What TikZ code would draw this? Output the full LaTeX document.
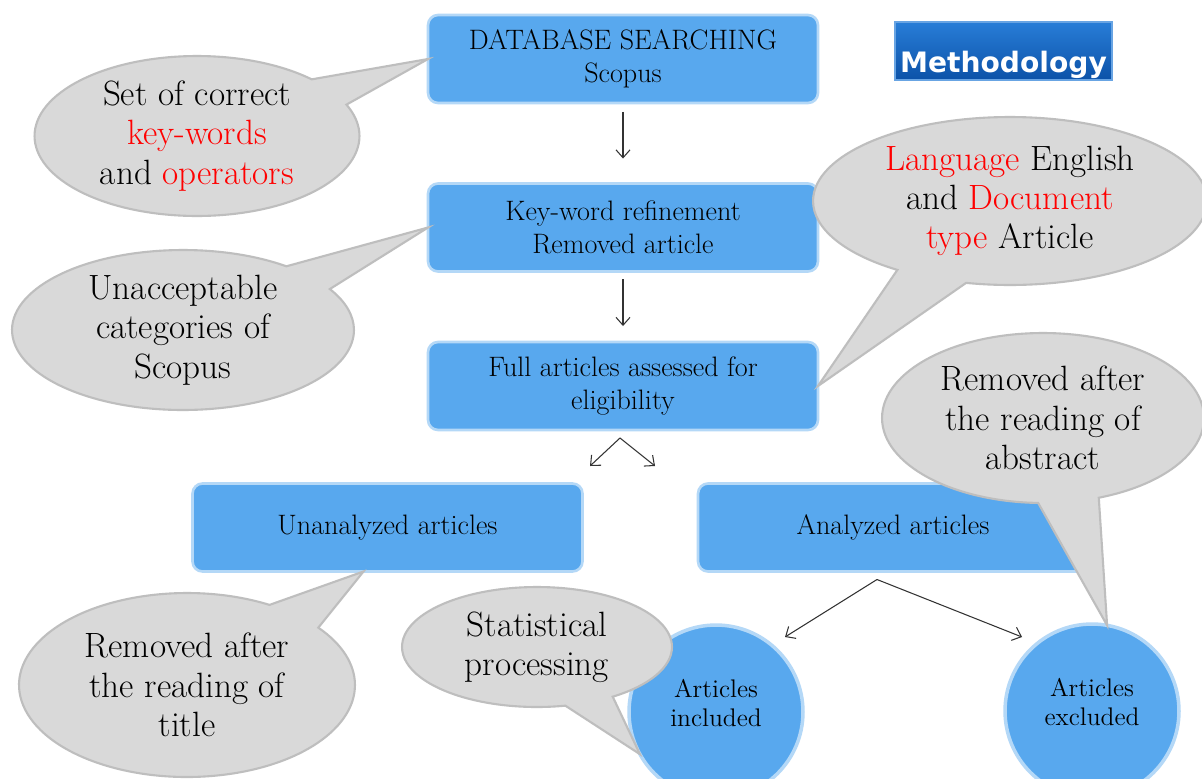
\documentclass[tikz,border=0pt]{standalone}
\usepackage{fontspec}
\newfontfamily\badgefont{DejaVu Sans}
\usepackage{tikz}
\usetikzlibrary{shapes.geometric, shapes.callouts, arrows.meta, positioning, calc}

\definecolor{boxblue}{RGB}{88,168,238}
\definecolor{bubblegray}{RGB}{217,217,217}
\definecolor{bubbleline}{RGB}{190,190,190}
\definecolor{badgetop}{RGB}{40,125,215}
\definecolor{badgebot}{RGB}{12,82,168}

\begin{document}
\begin{tikzpicture}[
    x=0.02cm, y=-0.02cm,
    box/.style={rectangle, rounded corners=0.2cm, minimum width=7.8cm, minimum height=1.76cm, align=center, fill=boxblue, draw=boxblue!45, line width=1.5pt, inner sep=0pt, outer sep=0pt, font=\fontsize{16}{18.5}\selectfont},
    disc/.style={circle, minimum size=3.48cm, align=center, fill=boxblue, draw=boxblue!45, line width=2pt, inner sep=0pt, outer sep=0pt, text depth=0.36cm, font=\fontsize{14.5}{16.5}\selectfont},
    bubble/.style={ellipse callout, callout pointer arc=22, fill=bubblegray, draw=bubbleline, line width=1.2pt, align=center, inner sep=0pt, outer sep=0pt, font=\fontsize{20}{22.4}\selectfont},
    badgebox/.style={rectangle, minimum width=4.34cm, minimum height=1.16cm, top color=badgetop, bottom color=badgebot, draw=badgetop!70!white, line width=0.8pt, text=white, inner sep=0pt, text height=0.84cm, text depth=0pt, font=\badgefont\bfseries\fontsize{16}{18}\selectfont},
    arrow/.style={-{Straight Barb[length=4.5pt, width=8pt]}, draw=black!80, line width=0.6pt}
]
\fill[white] (0,0) rectangle (1202,778);
\useasboundingbox (0,0) rectangle (1202,778);

% main column
\node[box] (search) at (623,59) {DATABASE SEARCHING\\Scopus};
\node[box] (refine) at (623,227.5) {Key-word refinement\\Removed article};
\node[box] (full) at (623,386) {Full articles assessed for\\eligibility};
\node[box] (unan) at (387.5,527.5) {Unanalyzed articles};
\node[box] (anal) at (893,527.5) {Analyzed articles};
\node[disc] (incl) at (716,712) {Articles\\included};
\node[disc] (excl) at (1092,711) {Articles\\excluded};

\node[badgebox] (badge) at (1003.5,51) {Methodology};

% arrows
\draw[arrow, shorten <=0.18cm, shorten >=0.5cm] (search) -- (refine);
\draw[arrow, shorten <=0.16cm, shorten >=0.32cm] (refine) -- (full);

\coordinate (fork) at ($(full.south)+(-3,8)$);
\coordinate (forkl) at (590,466);
\coordinate (forkr) at (655,466);
\draw[arrow] (fork) -- (forkl);
\draw[arrow] (fork) -- (forkr);

\coordinate (split) at ($(anal.south)+(-16,8)$);
\coordinate (splitl) at (785,637);
\coordinate (splitr) at (1022,637);
\draw[arrow] (split) -- (splitl);
\draw[arrow] (split) -- (splitr);

% callouts
\node[bubble, minimum width=6.5cm, minimum height=3.2cm, callout absolute pointer={(search.west)}] (keywords) at (197,136) {Set of correct\\\textcolor{red}{key-words}\\and \textcolor{red}{operators}};
\node[bubble, minimum width=6.84cm, minimum height=3.2cm, callout absolute pointer={(refine.west)}] (categories) at (183,330) {Unacceptable\\categories of\\Scopus};
\node[bubble, minimum width=7.88cm, minimum height=3.36cm, callout absolute pointer={(full.east)}] (language) at (1010,201) {\textcolor{red}{Language} English\\and \textcolor{red}{Document}\\\textcolor{red}{type} Article};
\node[bubble, minimum width=6.44cm, minimum height=3.4cm, callout absolute pointer={(excl.80)}] (abstract) at (1043,418) {Removed after\\the reading of\\abstract};
\node[bubble, minimum width=6.72cm, minimum height=3.68cm, callout absolute pointer={($(unan.south)+(-24,0)$)}] (title) at (187,685) {Removed after\\the reading of\\title};
\node[bubble, minimum width=5.4cm, minimum height=2.4cm, callout absolute pointer={(incl.209)}] (stats) at (537,647) {Statistical\\processing};

\end{tikzpicture}
\end{document}
